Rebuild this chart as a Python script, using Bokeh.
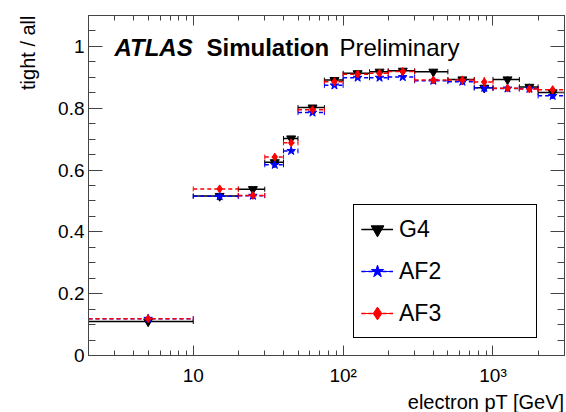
import numpy as np
from bokeh.plotting import figure
from bokeh.models import (ColumnDataSource, Range1d, FixedTicker, LinearAxis, LogAxis,
                          Label, Legend, LegendItem, Whisker, TeeHead, Title)
from bokeh.embed import file_html
from bokeh.resources import INLINE

# ---------------- data ----------------
bin_lo = [0, 10, 20, 30, 40, 50, 75, 100, 150, 200, 300, 500, 750, 1000, 1500, 2000]
bin_hi = [10, 20, 30, 40, 50, 75, 100, 150, 200, 300, 500, 750, 1000, 1500, 2000, 3000]

g4 = [0.110, 0.516, 0.538, 0.625, 0.702, 0.802, 0.891, 0.913, 0.918, 0.921,
      0.918, 0.893, 0.866, 0.893, 0.869, 0.851]
g4_err = [0.008, 0.004, 0.004, 0.005, 0.005, 0.005, 0.005, 0.005, 0.005, 0.006,
          0.008, 0.010, 0.012, 0.010, 0.010, 0.010]

af2 = [0.119, 0.515, 0.517, 0.617, 0.662, 0.786, 0.874, 0.899, 0.899, 0.901,
       0.889, 0.886, 0.866, 0.864, 0.863, 0.840]
af2_err = [0.008, 0.004, 0.004, 0.005, 0.005, 0.005, 0.005, 0.005, 0.005, 0.006,
           0.010, 0.010, 0.014, 0.010, 0.010, 0.010]

af3 = [0.119, 0.539, 0.518, 0.642, 0.688, 0.795, 0.886, 0.910, 0.913, 0.919,
       0.891, 0.891, 0.885, 0.865, 0.862, 0.860]
af3_err = [0.008, 0.004, 0.004, 0.005, 0.005, 0.005, 0.005, 0.005, 0.005, 0.006,
           0.010, 0.014, 0.016, 0.010, 0.010, 0.010]

series_names = ["G4", "AF2", "AF3"]

x_major_ticks = [10, 100, 1000]
x_major_labels = ["10", "10\u00b2", "10\u00b3"]
x_minor_ticks = [2, 3, 4, 5, 6, 7, 8, 9, 20, 30, 40, 50, 60, 70, 80, 90,
                 200, 300, 400, 500, 600, 700, 800, 900, 2000, 3000]
y_major_ticks = [0, 0.2, 0.4, 0.6, 0.8, 1.0]
y_major_labels = ["0", "0.2", "0.4", "0.6", "0.8", "1"]
y_minor_ticks = [0.05, 0.1, 0.15, 0.25, 0.3, 0.35, 0.45, 0.5, 0.55, 0.65, 0.7, 0.75,
                 0.85, 0.9, 0.95, 1.05]

X_MIN, X_MAX = 2, 3000
Y_MIN, Y_MAX = 0, 1.1

FONT = "Liberation Sans"
AXIS_COLOR = "#444444"

# ---------------- figure ----------------
p = figure(width=566, height=412, x_axis_type="log",
           x_range=Range1d(X_MIN, X_MAX), y_range=Range1d(Y_MIN, Y_MAX),
           output_backend="svg", toolbar_location=None,
           min_border_left=88, min_border_right=2, min_border_top=15, min_border_bottom=57)
p.background_fill_color = "white"
p.border_fill_color = "white"
p.outline_line_color = AXIS_COLOR
p.outline_line_width = 1
p.xgrid.visible = False
p.ygrid.visible = False

bottom_axis = p.below[0]
left_axis = p.left[0]
top_axis = LogAxis()
right_axis = LinearAxis()
p.add_layout(top_axis, "above")
p.add_layout(right_axis, "right")

x_overrides = {t: l for t, l in zip(x_major_ticks, x_major_labels)}
y_overrides = {t: l for t, l in zip(y_major_ticks, y_major_labels)}

for ax in [bottom_axis, top_axis]:
    ax.ticker = FixedTicker(ticks=x_major_ticks, minor_ticks=x_minor_ticks)
    ax.major_tick_in = 10
    ax.major_tick_out = 0
    ax.minor_tick_in = 5
    ax.minor_tick_out = 0
    ax.axis_line_color = AXIS_COLOR
    ax.major_tick_line_color = AXIS_COLOR
    ax.minor_tick_line_color = AXIS_COLOR

for ax in [left_axis, right_axis]:
    ax.ticker = FixedTicker(ticks=y_major_ticks, minor_ticks=y_minor_ticks)
    ax.major_tick_in = 14
    ax.major_tick_out = 0
    ax.minor_tick_in = 7
    ax.minor_tick_out = 0
    ax.axis_line_color = AXIS_COLOR
    ax.major_tick_line_color = AXIS_COLOR
    ax.minor_tick_line_color = AXIS_COLOR

bottom_axis.major_label_overrides = x_overrides
bottom_axis.major_label_text_font = FONT
bottom_axis.major_label_text_font_size = "19px"
bottom_axis.major_label_text_color = "black"
bottom_axis.major_label_standoff = 9

left_axis.major_label_overrides = y_overrides
left_axis.major_label_text_font = FONT
left_axis.major_label_text_font_size = "19px"
left_axis.major_label_text_color = "black"
left_axis.major_label_standoff = 4

top_axis.major_label_overrides = {t: "" for t in x_major_ticks}
right_axis.major_label_overrides = {t: "" for t in y_major_ticks}
for ax in [top_axis, right_axis]:
    ax.major_label_standoff = 0

# ---------------- series ----------------
styles = {
    "G4": dict(color="black", dash="solid", marker="inverted_triangle", size=9),
    "AF2": dict(color="blue", dash="4 3", marker="star", size=9),
    "AF3": dict(color="red", dash="4 3", marker="diamond", size=8),
}
values = {"G4": (g4, g4_err), "AF2": (af2, af2_err), "AF3": (af3, af3_err)}

lo = np.maximum(np.array(bin_lo, dtype=float), X_MIN)
hi = np.array(bin_hi, dtype=float)
centers = (np.array(bin_lo, dtype=float) + hi) / 2.0

items = []
for name in series_names:
    y, e = values[name]
    y = np.array(y)
    e = np.array(e)
    st = styles[name]
    src = ColumnDataSource(dict(x=centers, y=y, x0=lo, x1=hi, ylo=y - e, yhi=y + e))
    r_h = p.segment(x0="x0", y0="y", x1="x1", y1="y", source=src,
                    line_color=st["color"], line_width=1.5, line_dash=st["dash"])
    r_v = p.segment(x0="x", y0="ylo", x1="x", y1="yhi", source=src,
                    line_color=st["color"], line_width=1.2)
    caps = Whisker(source=src, base="y", lower="x0", upper="x1", dimension="width",
                   line_alpha=0,
                   lower_head=TeeHead(size=5, line_color=st["color"], line_width=1),
                   upper_head=TeeHead(size=5, line_color=st["color"], line_width=1))
    p.add_layout(caps)
    r_m = p.scatter(x="x", y="y", source=src, marker=st["marker"], size=st["size"],
                    fill_color=st["color"], line_color=st["color"])
    items.append(LegendItem(label=name, renderers=[r_h, r_v, r_m]))

legend = Legend(items=items, location=(265, 17), orientation="vertical",
                border_line_color="black", border_line_width=1, border_line_alpha=1,
                background_fill_color="white", background_fill_alpha=1,
                padding=7, spacing=8, margin=0,
                glyph_width=32, glyph_height=34, label_height=34, label_width=130,
                label_standoff=6, label_text_font=FONT, label_text_font_size="23px",
                label_text_color="black", label_text_baseline="middle")
p.add_layout(legend)

# ---------------- texts ----------------
for txt, xpos, style in [("ATLAS", 26, "bold italic"), ("Simulation", 118, "bold"),
                         ("Preliminary", 251, "normal")]:
    p.add_layout(Label(x=xpos, y=308, x_units="screen", y_units="screen", text=txt,
                       text_font=FONT, text_font_style=style, text_color="black",
                       text_font_size="24px", text_baseline="alphabetic"))

x_title = Title(text="electron pT [GeV]", align="right", text_font=FONT,
                text_font_size="20px", text_font_style="normal", text_color="black",
                offset=0, standoff=0)
p.add_layout(x_title, "below")
y_title = Title(text="tight / all", align="right", vertical_align="top", text_font=FONT,
                text_font_size="20px", text_font_style="normal", text_color="black",
                offset=0, standoff=30)
p.add_layout(y_title, "left")

open("out.html", "w").write(file_html(p, INLINE))
